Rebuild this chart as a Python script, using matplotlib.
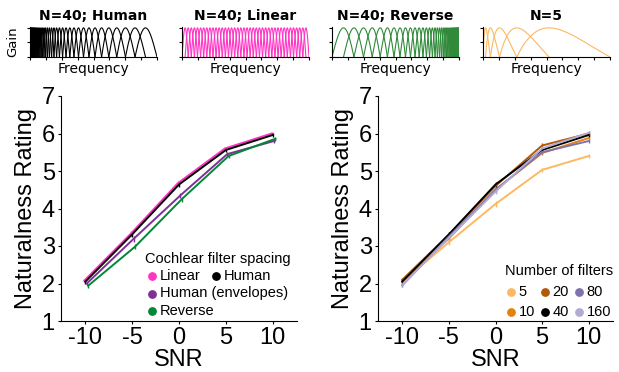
import numpy as np
import matplotlib
matplotlib.use("Agg")
import matplotlib.pyplot as plt

plt.rcParams['axes.unicode_minus'] = False

# SNR conditions
snr = [-10, -5, 0, 5, 10]

# left panel: cochlear filter spacing
spacing_labels = ['Linear', 'Human', 'Human (envelopes)', 'Reverse']
spacing_colors = ['#ff33c4', '#000000', '#7b3294', '#008837']
linear_vals = [2.08, 3.34, 4.68, 5.60, 6.00]
human_vals = [2.05, 3.31, 4.64, 5.56, 5.96]
env_vals = [2.00, 3.19, 4.35, 5.45, 5.80]
reverse_vals = [1.94, 2.98, 4.25, 5.40, 5.86]
linear_err = [0.05, 0.06, 0.06, 0.05, 0.05]
human_err = [0.05, 0.06, 0.06, 0.05, 0.05]
env_err = [0.05, 0.07, 0.07, 0.06, 0.05]
reverse_err = [0.05, 0.07, 0.07, 0.06, 0.05]

# right panel: number of filters
n_filters = ['5', '10', '20', '40', '80', '160']
nf_colors = ['#fdb863', '#e08214', '#b35806', '#000000', '#8073ac', '#b2abd2']
nf5_vals = [2.05, 3.10, 4.12, 5.03, 5.40]
nf10_vals = [2.08, 3.20, 4.50, 5.48, 5.88]
nf20_vals = [2.10, 3.30, 4.60, 5.68, 6.00]
nf40_vals = [2.05, 3.31, 4.64, 5.56, 5.96]
nf80_vals = [1.95, 3.25, 4.50, 5.50, 5.80]
nf160_vals = [1.96, 3.22, 4.45, 5.60, 6.02]
nf_err = [0.05, 0.07, 0.07, 0.06, 0.06]

# top row: filter banks
bank_titles = ['N=40; Human', 'N=40; Linear', 'N=40; Reverse', 'N=5']
bank_kinds = ['human', 'linear', 'reverse', 'human']
bank_counts = [40, 40, 40, 5]
bank_colors = ['#000000', '#ff33c4', '#2f8a3a', '#fdb863']
fmax = 10000.0


def erb(f):
    return 21.4 * np.log10(1 + 0.00437 * f)


def erb_inv(e):
    return (10 ** (e / 21.4) - 1) / 0.00437


def filter_bank(kind, n):
    # half-cosine filters with 50% overlap
    if kind == 'linear':
        edges = np.linspace(0, fmax, n + 2)
        scale = lambda f: f
    else:
        edges = np.linspace(0, erb(fmax), n + 2)
        scale = erb
    curves = []
    for k in range(n):
        lo, hi = edges[k], edges[k + 2]
        if kind == 'linear':
            f = np.linspace(lo, hi, 200)
        else:
            f = erb_inv(np.linspace(lo, hi, 200))
        g = np.sin(np.pi * (scale(f) - lo) / (hi - lo))
        if kind == 'reverse':
            f = fmax - f
        curves.append((f, g))
    return curves


W, H = 619, 372
fig = plt.figure(figsize=(W / 100, H / 100), dpi=100)

top_left = [30, 182, 332, 483]
for i in range(4):
    ax = fig.add_axes([top_left[i] / W, 1 - 57 / H, 127 / W, 30 / H])
    for f, g in filter_bank(bank_kinds[i], bank_counts[i]):
        ax.plot(f, g, color=bank_colors[i], lw=0.8)
    ax.set_xlim(0, fmax)
    ax.set_ylim(0, 1.03)
    ax.set_xticks(np.linspace(0, fmax, 9))
    ax.set_yticks([0, 0.5, 1])
    ax.tick_params(length=2.5, width=0.8, labelbottom=False, labelleft=False)
    for s in ['top', 'right']:
        ax.spines[s].set_visible(False)
    ax.set_title(bank_titles[i], fontsize=10, fontweight='bold', pad=5,
                 family='DejaVu Sans')
    ax.set_xlabel('Frequency', fontsize=10, labelpad=1, family='DejaVu Sans')
    if i == 0:
        ax.set_ylabel('Gain', fontsize=9.5, labelpad=5, family='DejaVu Sans')

font = 'Liberation Sans'


def style_main(ax):
    ax.set_xlim(-12.6, 12.6)
    ax.set_ylim(1, 7)
    ax.set_xticks(snr)
    ax.set_yticks(range(1, 8))
    ax.tick_params(length=2.5, width=0.8, labelsize=17, pad=2)
    for lab in ax.get_xticklabels() + ax.get_yticklabels():
        lab.set_family(font)
    for s in ['top', 'right']:
        ax.spines[s].set_visible(False)
    ax.set_xlabel('SNR', fontsize=17, family=font, labelpad=0)
    ax.set_ylabel('Naturalness Rating', fontsize=17, family=font, labelpad=3)


# left main panel
ax1 = fig.add_axes([61 / W, 1 - 321 / H, 236 / W, 225 / H])
left_series = [(linear_vals, linear_err, -0.1), (human_vals, human_err, 0.0),
               (env_vals, env_err, 0.15), (reverse_vals, reverse_err, 0.3)]
draw_order = [0, 2, 3, 1]
handles = {}
for idx in draw_order:
    vals, err, dx = left_series[idx]
    ax1.errorbar(np.array(snr) + dx, vals, yerr=err, color=spacing_colors[idx],
                 lw=1.4, elinewidth=1.0, capsize=0)
    handles[idx] = ax1.scatter([], [], s=28, color=spacing_colors[idx],
                               label=spacing_labels[idx])
style_main(ax1)

leg_font = {'family': font, 'size': 10.5}
leg1 = ax1.legend([handles[0], handles[2], handles[3]],
                  [spacing_labels[0], spacing_labels[2], spacing_labels[3]],
                  title='Cochlear filter spacing', prop=leg_font,
                  title_fontproperties=leg_font, frameon=False,
                  loc='upper left', bbox_to_anchor=(145 / W, 1 - 252 / H),
                  bbox_transform=fig.transFigure, borderpad=0,
                  handlelength=0.5, handletextpad=0.3, labelspacing=0.22,
                  borderaxespad=0)
ax1.add_artist(leg1)
fig.canvas.draw()
bb = leg1.get_texts()[0].get_window_extent()
yc = (bb.y0 + bb.y1) / 2 / H
ax1.legend([handles[1]], [spacing_labels[1]], prop=leg_font, frameon=False,
           loc='center left', bbox_to_anchor=(212 / W, yc),
           bbox_transform=fig.transFigure, borderpad=0,
           handlelength=0.5, handletextpad=0.3, borderaxespad=0)

# right main panel
ax2 = fig.add_axes([378 / W, 1 - 321 / H, 235 / W, 225 / H])
nf_series = [nf5_vals, nf10_vals, nf20_vals, nf40_vals, nf80_vals, nf160_vals]
nf_handles = []
for vals, col, lab in zip(nf_series, nf_colors, n_filters):
    ax2.errorbar(snr, vals, yerr=nf_err, color=col, lw=1.4, elinewidth=1.0,
                 capsize=0)
    nf_handles.append(ax2.scatter([], [], s=28, color=col, label=lab))
style_main(ax2)
ax2.legend(nf_handles, n_filters, title='Number of filters', prop=leg_font,
           title_fontproperties=leg_font, frameon=False, ncol=3,
           loc='upper left', bbox_to_anchor=(505 / W, 1 - 264 / H),
           bbox_transform=fig.transFigure, borderpad=0, handlelength=0.5,
           handletextpad=0.3, labelspacing=0.45, columnspacing=0.4,
           borderaxespad=0)

fig.savefig('out.png', dpi=100)
